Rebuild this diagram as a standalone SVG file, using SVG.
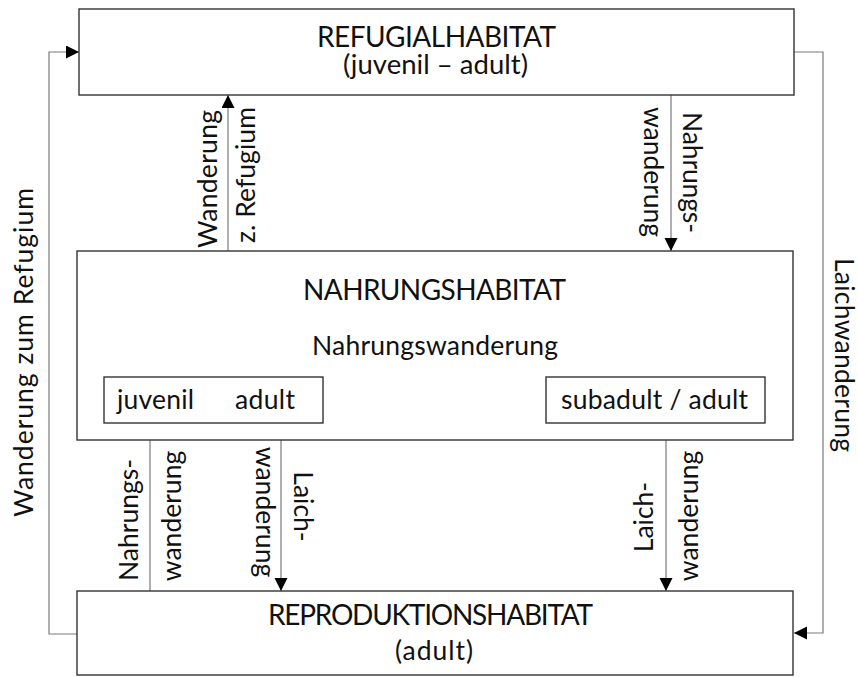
<svg xmlns="http://www.w3.org/2000/svg" width="858" height="677" viewBox="0 0 858 677">
<style>
.box{fill:#fff;stroke:#333;stroke-width:1.4}
.conn{fill:none;stroke:#7a7a7a;stroke-width:1.2}
text{font-family:"Lato","Liberation Sans",sans-serif;fill:#111}
.t{font-size:28px;text-anchor:middle}
.s{font-size:26.5px;text-anchor:middle}
</style>
<defs>
<marker id="ah" markerUnits="userSpaceOnUse" markerWidth="14" markerHeight="14" refX="13" refY="6.5" orient="auto">
<path d="M0,0 L13,6.5 L0,13 z" fill="#000"/>
</marker>
</defs>
<rect width="858" height="677" fill="#fff"/>
<g id="connectors">
<polyline class="conn" points="77,634 49,634 49,52 79,52" marker-end="url(#ah)"/>
<polyline class="conn" points="794,52 823,52 823,633 794,633" marker-end="url(#ah)"/>
<line class="conn" x1="228" y1="251" x2="228" y2="95" marker-end="url(#ah)"/>
<line class="conn" x1="671" y1="95" x2="671" y2="251" marker-end="url(#ah)"/>
<line class="conn" x1="150" y1="591" x2="150" y2="423" marker-end="url(#ah)"/>
<line class="conn" x1="281" y1="423" x2="281" y2="591" marker-end="url(#ah)"/>
<line class="conn" x1="666" y1="423" x2="666" y2="591" marker-end="url(#ah)"/>
<text class="s" transform="translate(33,352.5) rotate(-90)" textLength="329">Wanderung zum Refugium</text>
<text class="s" transform="translate(835,355) rotate(90)" textLength="194">Laichwanderung</text>
<text class="s" transform="translate(217,179) rotate(-90)" textLength="138">Wanderung</text>
<text class="s" transform="translate(255,175) rotate(-90)" textLength="136">z. Refugium</text>
<text class="s" transform="translate(644,172) rotate(90)" textLength="130">wanderung</text>
<text class="s" transform="translate(683,172.5) rotate(90)" textLength="121">Nahrungs-</text>
<text class="s" transform="translate(138,520) rotate(-90)">Nahrungs-</text>
<text class="s" transform="translate(181,516) rotate(-90)">wanderung</text>
<text class="s" transform="translate(256,512) rotate(90)">wanderung</text>
<text class="s" transform="translate(294,506.5) rotate(90)">Laich-</text>
<text class="s" transform="translate(653,517) rotate(-90)">Laich-</text>
<text class="s" transform="translate(698,516) rotate(-90)">wanderung</text>
</g>
<g id="refugialhabitat">
<rect class="box" x="79" y="9" width="715" height="86"/>
<text class="t" x="436.5" y="47" textLength="239">REFUGIALHABITAT</text>
<text class="s" x="435.5" y="74" style="font-size:27.5px" textLength="185">(juvenil – adult)</text>
</g>
<g id="nahrungshabitat">
<rect class="box" x="77" y="251" width="716" height="189"/>
<text class="t" x="434.5" y="300" textLength="263">NAHRUNGSHABITAT</text>
<text class="s" x="435" y="355" textLength="246">Nahrungswanderung</text>
</g>
<g id="juvenil-adult">
<rect class="box" x="104" y="377" width="219" height="46"/>
<text class="s" style="text-anchor:start" y="409"><tspan x="117" textLength="77">juvenil</tspan><tspan x="235" textLength="60">adult</tspan></text>
</g>
<g id="subadult-adult">
<rect class="box" x="546" y="377" width="219" height="46"/>
<text class="s" x="654.5" y="409" textLength="187">subadult / adult</text>
</g>
<g id="reproduktionshabitat">
<rect class="box" x="77" y="591" width="716" height="84"/>
<text class="t" x="430.5" y="625" textLength="325">REPRODUKTIONSHABITAT</text>
<text class="s" x="434" y="660" textLength="78">(adult)</text>
</g>
</svg>
